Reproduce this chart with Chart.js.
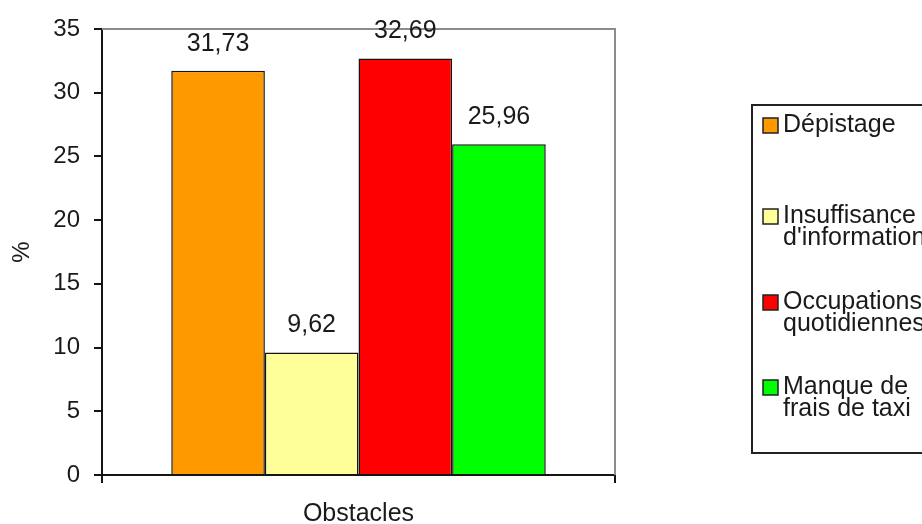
<!DOCTYPE html>
<html>
<head>
<meta charset="utf-8">
<script src="https://cdn.jsdelivr.net/npm/chart.js@4.4.1/dist/chart.umd.min.js"></script>
<style>
  html, body { margin: 0; padding: 0; background: #fff; }
  canvas { display: block; }
</style>
</head>
<body>
<canvas id="obstacles" width="922" height="524"></canvas>
<script>
/* Obstacles au dépistage — bar chart, one group, four series */

const categories = ['Obstacles'];
const seriesNames = [
  ['Dépistage'],
  ['Insuffisance', "d'information"],
  ['Occupations', 'quotidiennes'],
  ['Manque de', 'frais de taxi'],
];
const seriesValues = [31.73, 9.62, 32.69, 25.96];
const seriesColors = ['#ff9900', '#ffff99', '#ff0000', '#00ff00'];
const yTicks = [0, 5, 10, 15, 20, 25, 30, 35];

const FONT = "'Liberation Sans', Arial, sans-serif";
const INK  = '#1a1a1a';
const AXIS = '#151515';

/* value above each bar, decimal comma */
const valueLabels = {
  id: 'valueLabels',
  afterDatasetsDraw(chart) {
    const ctx = chart.ctx;
    ctx.save();
    ctx.font = `25px ${FONT}`;
    ctx.fillStyle = INK;
    ctx.textAlign = 'center';
    ctx.textBaseline = 'alphabetic';
    chart.data.datasets.forEach((ds, i) => {
      chart.getDatasetMeta(i).data.forEach((bar, j) => {
        const txt = ds.data[j].toFixed(2).replace('.', ',');
        ctx.fillText(txt, bar.x, bar.y - 20);
      });
    });
    ctx.restore();
  },
};

/* grey top/right edges of the plot area */
const plotFrame = {
  id: 'plotFrame',
  beforeDatasetsDraw(chart) {
    const { ctx, chartArea: a } = chart;
    ctx.save();
    ctx.strokeStyle = '#8c8c8c';
    ctx.lineWidth = 2;
    ctx.beginPath();
    ctx.moveTo(a.left, a.top);
    ctx.lineTo(a.right, a.top);
    ctx.lineTo(a.right, a.bottom);
    ctx.stroke();
    ctx.restore();
  },
};

/* boxed legend on the right, labels on two lines */
const sideLegend = {
  id: 'sideLegend',
  afterDraw(chart) {
    const ctx = chart.ctx;
    const box = { x: 752, y: 105, w: 200, h: 348 };
    const rows = [125, 216, 302, 387];
    const lineGap = 22;
    ctx.save();
    ctx.strokeStyle = '#222';
    ctx.lineWidth = 2;
    ctx.strokeRect(box.x, box.y, box.w, box.h);
    ctx.font = `25px ${FONT}`;
    ctx.textAlign = 'left';
    ctx.textBaseline = 'middle';
    chart.data.datasets.forEach((ds, i) => {
      const y = rows[i];
      ctx.fillStyle = ds.backgroundColor;
      ctx.fillRect(763, y - 7, 15, 15);
      ctx.strokeStyle = '#222';
      ctx.lineWidth = 1.5;
      ctx.strokeRect(763, y - 7, 15, 15);
      ctx.fillStyle = INK;
      ds.label.forEach((line, k) => ctx.fillText(line, 783, y + k * lineGap));
    });
    ctx.restore();
  },
};

new Chart(document.getElementById('obstacles'), {
  type: 'bar',
  data: {
    labels: categories,
    datasets: seriesNames.map((name, i) => ({
      label: name,
      data: [seriesValues[i]],
      backgroundColor: seriesColors[i],
      borderColor: AXIS,
      borderWidth: 1.5,
      categoryPercentage: 0.73,
      barPercentage: 1.0,
    })),
  },
  options: {
    responsive: false,
    animation: false,
    layout: { padding: { left: 0, right: 307, top: 29, bottom: 0 } },
    plugins: {
      legend: { display: false },
      tooltip: { enabled: false },
    },
    scales: {
      x: {
        grid: { drawOnChartArea: false, tickLength: 8, color: AXIS, lineWidth: 2 },
        border: { color: AXIS, width: 2 },
        ticks: { color: INK, padding: 16, font: { family: FONT, size: 25 } },
        afterFit: s => { s.height = 49; },
      },
      y: {
        min: 0, max: 35,
        afterBuildTicks: s => { s.ticks = yTicks.map(v => ({ value: v })); },
        grid: { drawOnChartArea: false, tickLength: 8, color: AXIS, lineWidth: 2 },
        border: { color: AXIS, width: 2 },
        ticks: { color: INK, padding: 14, font: { family: FONT, size: 24 } },
        title: {
          display: true,
          text: '%',
          color: INK,
          padding: { top: 8, bottom: 0 },
          font: { family: FONT, size: 24 },
        },
        afterFit: s => { s.width = 102; },
      },
    },
  },
  plugins: [plotFrame, valueLabels, sideLegend],
});
</script>
</body>
</html>
